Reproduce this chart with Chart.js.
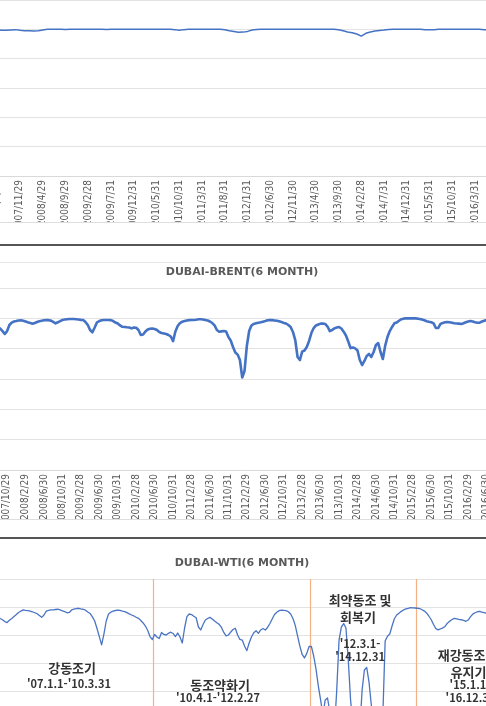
<!DOCTYPE html>
<html lang="ko">
<head>
    <meta charset="UTF-8">
    <title>DUBAI 6 MONTH</title>
    <script src="https://cdn.jsdelivr.net/npm/chart.js"></script>
    <style>
        body {
            margin: 0;
            width: 486px;
            height: 706px;
            overflow: hidden;
            background: #ffffff;
            position: relative;
        }
        .panel { position: absolute; left: 0; width: 486px; overflow: hidden; }
        .panel .inner { position: absolute; top: 0; bottom: 0; }
        .rule { position: absolute; left: 0; width: 486px; }
        #p1 { top: 0; height: 222px; }
        #p1 .inner { left: -30px; width: 546px; }
        #p2 { top: 262px; height: 257px; }
        #p2 .inner { left: -39px; width: 562px; }
        #p3 { top: 553px; height: 243px; }
        #p3 .inner { left: -39px; width: 562px; }
    </style>
</head>
<body>
    <div class="rule" style="top:222px;height:1px;background:#dedede"></div>
    <div class="rule" style="top:244px;height:2px;background:#555555"></div>
    <div class="rule" style="top:262px;height:1px;background:#e6e6e6"></div>
    <div class="rule" style="top:519px;height:1px;background:#dedede"></div>
    <div class="rule" style="top:537px;height:2px;background:#555555"></div>

    <div class="panel" id="p1"><div class="inner"><canvas id="chartTop"></canvas></div></div>
    <div class="panel" id="p2"><div class="inner"><canvas id="chartBrent"></canvas></div></div>
    <div class="panel" id="p3"><div class="inner"><canvas id="chartWti"></canvas></div></div>

    <script>
        // month index counted from 2007/1/1 (0 = start of Jan 2007)
        const topStart = 6;      // monthly values
        const topValues = [
            0.997, 0.993, 0.993, 0.996, 0.998, 0.993, 0.990, 0.990, 0.988, 0.991, 0.996,
            1, 1, 1, 1, 0.999, 1, 1, 1, 1, 1, 1, 1, 1, 0.999, 1, 1, 1, 1, 1, 1, 1, 1, 1, 1, 1, 1, 1, 1,
            0.998, 0.993, 0.998,
            1, 1, 1, 1, 1, 1, 1, 1,
            0.997, 0.990, 0.985, 0.980, 0.981, 0.986, 0.995, 0.999,
            1, 1, 1, 1, 1, 1, 1, 1, 1, 1, 1, 1, 1, 1, 1, 1, 1,
            0.997, 0.990, 0.982, 0.977, 0.968, 0.954, 0.973, 0.982, 0.988, 0.992, 0.995, 0.999,
            1, 1, 1, 1, 1, 1, 1,
            0.998, 0.997, 0.998,
            1, 1, 1, 1, 1, 1, 1, 1, 1, 1,
            0.997, 0.998
        ];
        const topTicks = ['2007/6/29', '2007/11/29', '2008/4/29', '2008/9/29', '2009/2/28', '2009/7/31',
            '2009/12/31', '2010/5/31', '2010/10/31', '2011/3/31', '2011/8/31', '2012/1/31', '2012/6/30',
            '2012/11/30', '2013/4/30', '2013/9/30', '2014/2/28', '2014/7/31', '2014/12/31', '2015/5/31',
            '2015/10/31', '2016/3/31', '2016/8/31'];

        const halfStart = 8;     // half-month values
        const brentValues = [
            0.943, 0.933, 0.916, 0.897, 0.916, 0.956, 0.972, 0.979, 0.982, 0.986,
            0.987, 0.984, 0.979, 0.974, 0.970, 0.964, 0.969, 0.976, 0.981, 0.984,
            0.987, 0.989, 0.988, 0.985, 0.976, 0.967, 0.974, 0.982, 0.989, 0.992,
            0.994, 0.996, 0.996, 0.996, 0.994, 0.992, 0.990, 0.989, 0.976, 0.956,
            0.923, 0.908, 0.940, 0.974, 0.982, 0.987, 0.989, 0.989, 0.989, 0.988,
            0.982, 0.972, 0.966, 0.953, 0.944, 0.943, 0.941, 0.940, 0.934, 0.940,
            0.938, 0.923, 0.890, 0.893, 0.913, 0.926, 0.931, 0.933, 0.930, 0.923,
            0.910, 0.903, 0.900, 0.897, 0.890, 0.880, 0.850, 0.913, 0.949, 0.969,
            0.978, 0.982, 0.986, 0.988, 0.989, 0.989, 0.991, 0.994, 0.994, 0.992,
            0.989, 0.986, 0.979, 0.969, 0.953, 0.923, 0.912, 0.914, 0.916, 0.913,
            0.877, 0.854, 0.811, 0.775, 0.761, 0.725, 0.610, 0.653, 0.818, 0.916,
            0.953, 0.963, 0.967, 0.971, 0.974, 0.978, 0.982, 0.987, 0.989, 0.988,
            0.986, 0.984, 0.980, 0.976, 0.970, 0.966, 0.956, 0.943, 0.910, 0.857,
            0.745, 0.725, 0.780, 0.788, 0.811, 0.851, 0.903, 0.936, 0.953, 0.959,
            0.965, 0.966, 0.963, 0.946, 0.916, 0.923, 0.934, 0.940, 0.943, 0.933,
            0.912, 0.887, 0.847, 0.804, 0.808, 0.802, 0.788, 0.725, 0.692, 0.719,
            0.752, 0.765, 0.745, 0.778, 0.824, 0.837, 0.778, 0.732, 0.818, 0.877,
            0.916, 0.943, 0.967, 0.972, 0.984, 0.994, 0.998, 1.000, 1.000, 1.000,
            1.000, 1.000, 0.998, 0.996, 0.992, 0.987, 0.981, 0.977, 0.974, 0.967,
            0.936, 0.936, 0.963, 0.970, 0.974, 0.976, 0.974, 0.971, 0.968, 0.966,
            0.965, 0.963, 0.968, 0.974, 0.979, 0.982, 0.979, 0.974, 0.971, 0.972,
            0.979, 0.984, 0.989, 0.989
        ];
        const wtiValues = [
            0.929, 0.918, 0.909, 0.896, 0.889, 0.905, 0.918, 0.932, 0.946, 0.961,
            0.971, 0.979, 0.976, 0.974, 0.971, 0.966, 0.959, 0.952, 0.939, 0.926,
            0.943, 0.971, 0.976, 0.979, 0.980, 0.982, 0.984, 0.980, 0.973, 0.967,
            0.959, 0.961, 0.979, 0.984, 0.988, 0.991, 0.987, 0.984, 0.977, 0.964,
            0.954, 0.929, 0.900, 0.846, 0.788, 0.729, 0.807, 0.900, 0.950, 0.963,
            0.971, 0.975, 0.978, 0.976, 0.971, 0.967, 0.960, 0.951, 0.943, 0.936,
            0.927, 0.919, 0.904, 0.886, 0.864, 0.832, 0.789, 0.768, 0.804, 0.786,
            0.775, 0.818, 0.804, 0.800, 0.812, 0.820, 0.811, 0.789, 0.814, 0.786,
            0.743, 0.850, 0.931, 0.950, 0.946, 0.934, 0.923, 0.857, 0.836, 0.875,
            0.907, 0.918, 0.926, 0.914, 0.900, 0.887, 0.876, 0.854, 0.818, 0.794,
            0.800, 0.821, 0.839, 0.848, 0.800, 0.768, 0.764, 0.721, 0.688, 0.743,
            0.786, 0.816, 0.831, 0.812, 0.836, 0.846, 0.836, 0.854, 0.882, 0.914,
            0.946, 0.963, 0.974, 0.977, 0.976, 0.974, 0.966, 0.950, 0.918, 0.869,
            0.793, 0.721, 0.661, 0.636, 0.669, 0.718, 0.719, 0.650, 0.557, 0.436,
            0.336, 0.229, 0.336, 0.350, 0.250, 0.050, 0.121, 0.407, 0.764, 0.857,
            0.882, 0.850, 0.621, 0.336, 0.157, 0.014, 0.014, 0.121, 0.407, 0.550,
            0.568, 0.464, 0.300, 0.121, 0.014, 0.014, 0.050, 0.229, 0.757, 0.791,
            0.807, 0.864, 0.916, 0.943, 0.956, 0.969, 0.979, 0.986, 0.991, 0.995,
            0.994, 0.993, 0.991, 0.989, 0.980, 0.971, 0.957, 0.934, 0.909, 0.875,
            0.845, 0.837, 0.843, 0.851, 0.861, 0.884, 0.898, 0.911, 0.919, 0.915,
            0.911, 0.909, 0.904, 0.898, 0.907, 0.929, 0.949, 0.959, 0.966, 0.969,
            0.964, 0.960, 0.955, 0.954
        ];
        const halfTicks = ['2007/6/29', '2007/10/29', '2008/2/29', '2008/6/30', '2008/10/31', '2009/2/28',
            '2009/6/30', '2009/10/31', '2010/2/28', '2010/6/30', '2010/10/31', '2011/2/28', '2011/6/30',
            '2011/10/31', '2012/2/29', '2012/6/30', '2012/10/31', '2013/2/28', '2013/6/30', '2013/10/31',
            '2014/2/28', '2014/6/30', '2014/10/31', '2015/2/28', '2015/6/30', '2015/10/31', '2016/2/29',
            '2016/6/30', '2016/10/31'];

        // regime dividers (month index) and period notes for the WTI panel
        const periodBreaks = [41.65, 75.7, 98.7];
        const periodNotes = [
            { text: '강동조기', m: 24.1, v: 0.564, big: true },
            { text: "'07.1.1-'10.3.31", m: 23.4, v: 0.45 },
            { text: '동조약화기', m: 56.2, v: 0.443, big: true },
            { text: "'10.4.1-'12.2.27", m: 55.75, v: 0.35 },
            { text: '최약동조 및', m: 86.55, v: 1.05, big: true },
            { text: '회복기', m: 86.1, v: 0.929, big: true },
            { text: "'12.3.1-", m: 86.55, v: 0.736 },
            { text: "'14.12.31", m: 86.55, v: 0.643 },
            { text: '재강동조 및', m: 110.2, v: 0.657, big: true },
            { text: '유지기', m: 110.1, v: 0.536, big: true },
            { text: "'15.1.1-", m: 110.4, v: 0.443 },
            { text: "'16.12.31", m: 110.5, v: 0.35 }
        ];

        function dateToMonth(s) {
            const [y, mo, d] = s.split('/').map(Number);
            const days = new Date(y, mo, 0).getDate();
            return (y - 2007) * 12 + (mo - 1) + d / days;
        }

        const periodPlugin = {
            id: 'periods',
            beforeDatasetsDraw(chart) {
                const { ctx, chartArea, scales } = chart;
                ctx.save();
                ctx.strokeStyle = '#f4b183';
                ctx.lineWidth = 1.2;
                periodBreaks.forEach(m => {
                    const px = Math.round(scales.x.getPixelForValue(m)) + 0.5;
                    ctx.beginPath();
                    ctx.moveTo(px, chartArea.top);
                    ctx.lineTo(px, chartArea.bottom);
                    ctx.stroke();
                });
                ctx.restore();
            },
            afterDatasetsDraw(chart) {
                const { ctx, scales } = chart;
                ctx.save();
                ctx.fillStyle = '#333333';
                ctx.textAlign = 'center';
                ctx.textBaseline = 'middle';
                periodNotes.forEach(n => {
                    ctx.font = n.big ? 'bold 13px "Noto Sans CJK KR", sans-serif'
                                     : 'bold 11px "Noto Sans CJK KR", sans-serif';
                    ctx.fillText(n.text, scales.x.getPixelForValue(n.m), scales.y.getPixelForValue(n.v));
                });
                ctx.restore();
            }
        };

        function createChart(canvasId, opts) {
            const points = opts.values.map((v, i) => ({ x: opts.start + i * opts.step, y: v }));
            return new Chart(document.getElementById(canvasId), {
                type: 'line',
                data: {
                    datasets: [{
                        data: points,
                        borderColor: opts.color,
                        borderWidth: opts.width,
                        pointRadius: 0,
                        tension: 0,
                        borderJoinStyle: 'round'
                    }]
                },
                plugins: opts.plugins || [],
                options: {
                    responsive: true,
                    maintainAspectRatio: false,
                    animation: false,
                    layout: { padding: 0 },
                    plugins: {
                        legend: { display: false },
                        tooltip: { enabled: false },
                        title: {
                            display: !!opts.title,
                            text: opts.title,
                            color: '#595959',
                            font: { family: 'DejaVu Sans', size: 11, weight: 'bold' },
                            padding: { top: 4, bottom: 8.8 }
                        }
                    },
                    scales: {
                        x: {
                            type: 'linear',
                            min: 0,
                            max: opts.xMax,
                            grid: { display: false, tickLength: 2 },
                            border: { display: true, color: '#d9d9d9' },
                            afterBuildTicks: s => {
                                s.ticks = opts.ticks.map(d => ({ value: dateToMonth(d) }));
                            },
                            afterFit: s => { s.height = opts.axisHeight; },
                            ticks: {
                                autoSkip: false,
                                minRotation: 90,
                                maxRotation: 90,
                                padding: 2,
                                color: '#595959',
                                font: { family: '"Liberation Sans Narrow", "DejaVu Sans Condensed", sans-serif', size: 10 },
                                callback: (v, i) => opts.ticks[i]
                            }
                        },
                        y: {
                            min: 0,
                            max: 1.2,
                            grid: { color: '#e3e3e3', drawTicks: false },
                            border: { display: false },
                            afterFit: s => { s.width = 0; },
                            ticks: { display: false, stepSize: 0.2 }
                        }
                    }
                }
            });
        }

        createChart('chartTop', {
            values: topValues, start: topStart, step: 1, ticks: topTicks,
            xMax: 120, axisHeight: 46, color: '#4472c4', width: 1.5
        });
        createChart('chartBrent', {
            values: brentValues, start: halfStart, step: 0.5, ticks: halfTicks,
            xMax: 121.9, axisHeight: 49, color: '#4472c4', width: 2.6,
            title: 'DUBAI-BRENT(6 MONTH)'
        });
        createChart('chartWti', {
            values: wtiValues, start: halfStart, step: 0.5, ticks: halfTicks,
            xMax: 121.9, axisHeight: 49, color: '#4a74c4', width: 1.3,
            title: 'DUBAI-WTI(6 MONTH)', plugins: [periodPlugin]
        });
    </script>
</body>
</html>
